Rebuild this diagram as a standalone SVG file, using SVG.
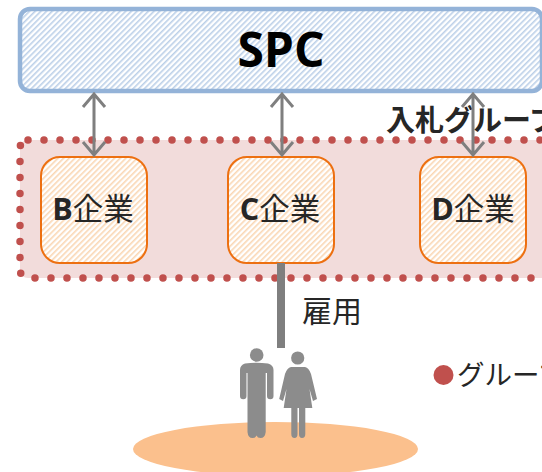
<svg xmlns="http://www.w3.org/2000/svg" width="542" height="472" viewBox="0 0 542 472">
<style>
text{font-family:"Open Sans","Noto Sans CJK JP",sans-serif;fill:#262626}
.jp{font-family:"Noto Sans CJK JP",sans-serif}
.co{fill:url(#ho);stroke:#ED7011;stroke-width:2}
.lab{font-size:30.500px;text-anchor:middle}
.con{stroke:#7F7F7F;stroke-width:3;fill:none;stroke-linejoin:miter}
.fig{fill:#8C8C8C}
</style>
<defs>
<pattern id="hb" width="4" height="4" patternUnits="userSpaceOnUse" patternTransform="rotate(-45)"><rect width="4" height="4" fill="#fff"/><rect width="4" height="1.6" fill="#BCD0E8"/></pattern>
<pattern id="ho" width="4" height="4" patternUnits="userSpaceOnUse" patternTransform="rotate(-45)"><rect width="4" height="4" fill="#fff"/><rect width="4" height="1.6" fill="#FAD7B4"/></pattern>
<g id="arrow"><path class="con" d="M0 4V64M-11 16L0 3L11 16M-11 51L0 64L11 51"/></g>
</defs>
<g id="spc"><rect x="20" y="9" width="522" height="82" rx="10" fill="url(#hb)" stroke="#94B3D8" stroke-width="4.500"/>
<text x="281" y="67" font-size="48" font-weight="700" text-anchor="middle" style="fill:#000">SPC</text></g>
<g id="group"><rect x="20" y="140" width="530" height="138" rx="8" fill="#F2DCDB"/>
<rect x="20" y="140" width="530" height="138" rx="8" fill="none" stroke="#C0504D" stroke-width="7.500" stroke-linecap="round" stroke-dasharray="0 16"/></g>
<g id="b"><rect class="co" x="41" y="157" width="106" height="106" rx="19"/><text class="lab" x="93" y="220"><tspan font-weight="700">B</tspan>企業</text></g>
<g id="c"><rect class="co" x="228" y="157" width="106" height="106" rx="19"/><text class="lab" x="280" y="220"><tspan font-weight="700">C</tspan>企業</text></g>
<g id="d"><rect class="co" x="420" y="157" width="106" height="106" rx="19"/><text class="lab" x="473" y="220"><tspan font-weight="700">D</tspan>企業</text></g>
<text class="jp" x="386" y="131" font-size="29" font-weight="700">入札グループ</text>
<g id="connectors">
<use href="#arrow" x="94" y="91"/><use href="#arrow" x="282" y="91"/><use href="#arrow" x="473" y="91"/>
<rect x="277" y="263" width="8" height="85" fill="#7F7F7F"/>
</g>
<text class="jp" x="302" y="322" font-size="30">雇用</text>
<g id="people">
<ellipse cx="275.500" cy="449" rx="142.500" ry="27" fill="#FBC08D"/>
<circle class="fig" cx="256.700" cy="355" r="6.800"/>
<path class="fig" d="M245 363.500Q256 362 268 363.500Q273.500 365 273.500 370V396A3.200 3.200 0 0 1 267 396V373H265.700V432Q265 438 260.500 438Q257.500 438 256.500 435.500Q255.500 438 252.500 438Q248 438 247.500 432V373H246.500V396A3.200 3.200 0 0 1 240 396V370Q240 365 245 363.500Z"/>
<circle class="fig" cx="297.700" cy="358" r="6.600"/>
<path class="fig" d="M291 367H305Q309 368 311 374L317 399L313 401L309.500 389L312.300 408H305.300V434Q305.300 438 302 438Q299 438 299 434V408H297.500V434Q297.500 438 294.500 438Q291.300 438 291.300 434V408H283.700L286.500 389L283 401L279.200 399L285 374Q287 368 291 367Z"/>
</g>
<g id="legend"><circle cx="443.500" cy="375" r="10" fill="#C0504D"/><text class="jp" x="457" y="385" font-size="27.500">グループ</text></g>
</svg>
